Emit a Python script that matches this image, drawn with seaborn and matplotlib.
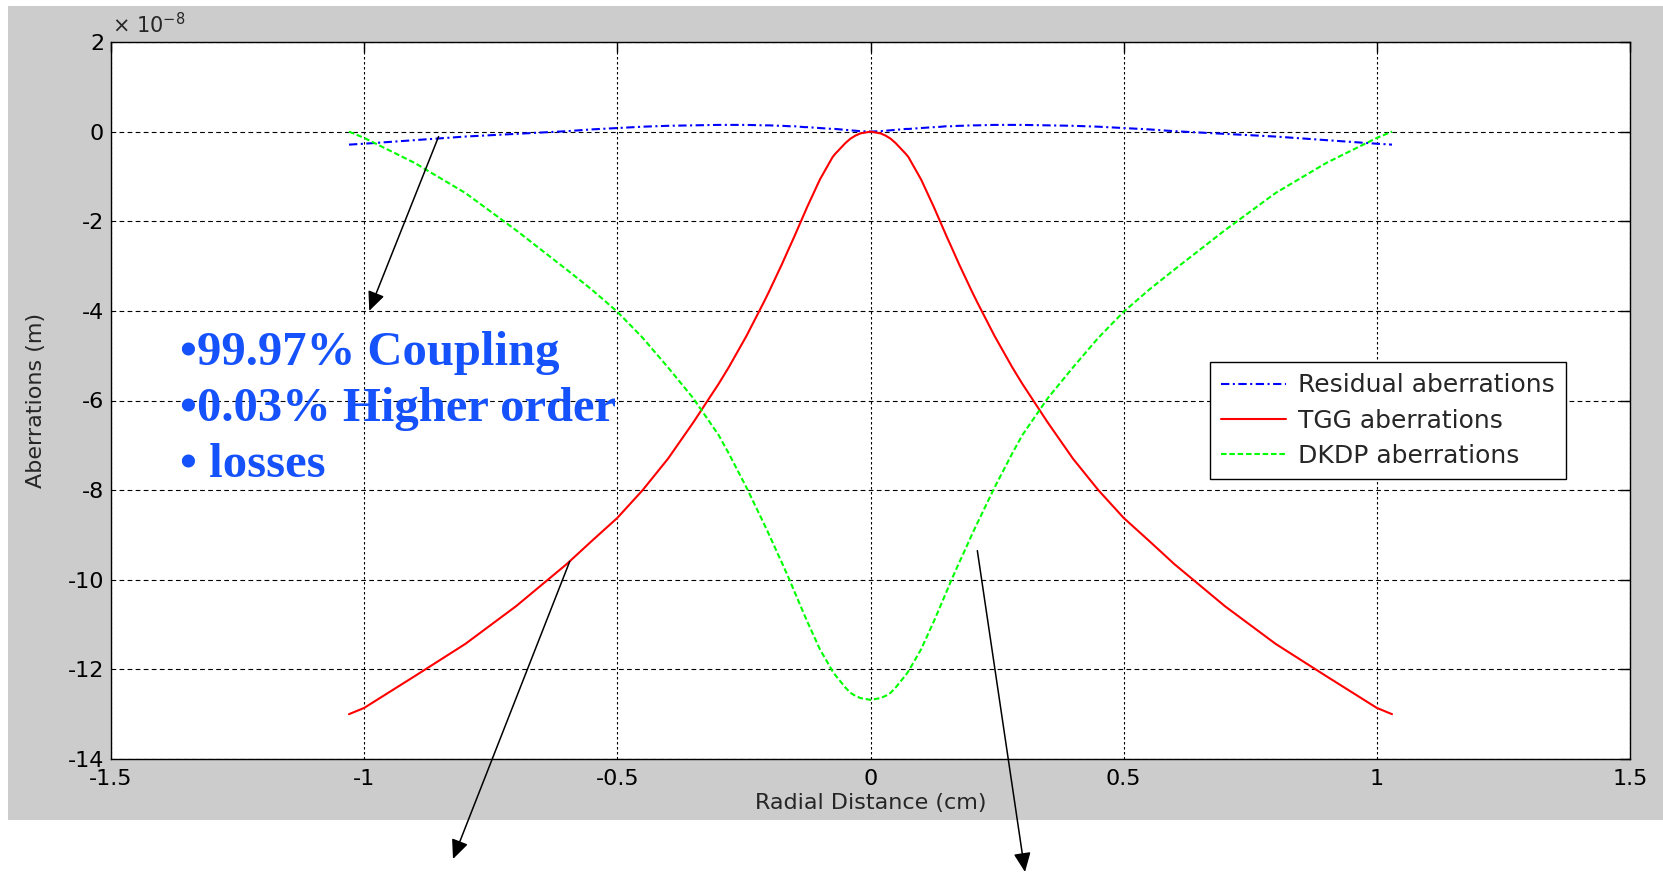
import matplotlib
matplotlib.use("Agg")
import matplotlib.pyplot as plt
from matplotlib.patches import Rectangle
import seaborn as sns
import pandas as pd

# ---------------- data (aberrations in units of 1e-8 m) ----------------
x_cm = [-1.03, -1.0, -0.9, -0.8, -0.7, -0.6, -0.55, -0.5, -0.45, -0.4, -0.35,
        -0.3, -0.28, -0.245, -0.21, -0.2, -0.18, -0.175, -0.16, -0.15, -0.13,
        -0.125, -0.1, -0.075, -0.07, -0.05, -0.04, -0.03, -0.02, 0.0,
        0.02, 0.03, 0.04, 0.05, 0.07, 0.075, 0.1, 0.125, 0.13, 0.15, 0.16,
        0.175, 0.18, 0.2, 0.21, 0.245, 0.28, 0.3, 0.35, 0.4, 0.45, 0.5,
        0.55, 0.6, 0.7, 0.8, 0.9, 1.0, 1.03]

tgg = [-13.0, -12.86, -12.15, -11.43, -10.59, -9.65, -9.13, -8.62, -8.0, -7.3,
       -6.49, -5.63, -5.26, -4.56, -3.79, -3.56, -3.08, -2.96, -2.58, -2.33,
       -1.81, -1.68, -1.07, -0.57, -0.5, -0.26, -0.16, -0.09, -0.04, 0.0,
       -0.04, -0.09, -0.16, -0.26, -0.5, -0.57, -1.07, -1.68, -1.81, -2.33,
       -2.58, -2.96, -3.08, -3.56, -3.79, -4.56, -5.26, -5.63, -6.49, -7.3,
       -8.0, -8.62, -9.13, -9.65, -10.59, -11.43, -12.15, -12.86, -13.0]

dkdp = [0.0, -0.14, -0.70, -1.37, -2.2, -3.08, -3.53, -4.02, -4.6, -5.26,
        -5.95, -6.77, -7.18, -7.94, -8.76, -9.0, -9.5, -9.62, -10.0, -10.27,
        -10.8, -10.93, -11.55, -12.04, -12.12, -12.4, -12.52, -12.59, -12.64,
        -12.68, -12.64, -12.59, -12.52, -12.4, -12.12, -12.04, -11.55, -10.93,
        -10.8, -10.27, -10.0, -9.62, -9.5, -9.0, -8.76, -7.94, -7.18, -6.77,
        -5.95, -5.26, -4.6, -4.02, -3.53, -3.08, -2.2, -1.37, -0.70, -0.14, 0.0]

residual = [-0.29, -0.27, -0.19, -0.11, -0.05, 0.01, 0.05, 0.08, 0.11, 0.13,
            0.14, 0.15, 0.15, 0.15, 0.14, 0.14, 0.13, 0.13, 0.12, 0.12, 0.10,
            0.10, 0.08, 0.06, 0.06, 0.04, 0.03, 0.02, 0.01, 0.0,
            0.01, 0.02, 0.03, 0.04, 0.06, 0.06, 0.08, 0.10, 0.10, 0.12, 0.12,
            0.13, 0.13, 0.14, 0.14, 0.15, 0.15, 0.15, 0.14, 0.13, 0.11, 0.08,
            0.05, 0.01, -0.05, -0.11, -0.19, -0.27, -0.29]

series_names = ["Residual aberrations", "TGG aberrations", "DKDP aberrations"]
x_ticks = [-1.5, -1.0, -0.5, 0.0, 0.5, 1.0, 1.5]
x_tick_labels = ["-1.5", "-1", "-0.5", "0", "0.5", "1", "1.5"]
y_ticks = [-14, -12, -10, -8, -6, -4, -2, 0, 2]
y_tick_labels = ["-14", "-12", "-10", "-8", "-6", "-4", "-2", "0", "2"]
notes = ["\u202299.97% Coupling", "\u20220.03% Higher order", "\u2022 losses"]

# ---------------- style ----------------
sns.set_style("white")
plt.rcParams["font.family"] = ["DejaVu Sans"]
plt.rcParams["axes.unicode_minus"] = False
plt.rcParams["lines.scale_dashes"] = False

W, H = 1663, 875
fig = plt.figure(figsize=(W / 100, H / 100), dpi=100, facecolor="white")
bg = Rectangle((8 / W, 55 / H), 1.0, 814 / H, transform=fig.transFigure,
               facecolor="#cccccc", edgecolor="none", zorder=-10)
fig.add_artist(bg)

ax = fig.add_axes([111 / W, 116 / H, 1519 / W, 717 / H])
ax.set_facecolor("white")
ax.set_zorder(1)

df = pd.DataFrame({"x": x_cm, series_names[0]: residual,
                   series_names[1]: tgg, series_names[2]: dkdp})

styles = {
    series_names[0]: dict(color=(0, 0, 1), linestyle=(0, (6, 2.5, 1.5, 2.5))),
    series_names[1]: dict(color=(1, 0, 0), linestyle="-"),
    series_names[2]: dict(color=(0, 1, 0), linestyle=(0, (4, 2))),
}
for name in series_names:
    sns.lineplot(data=df, x="x", y=name, ax=ax, label=name, lw=1.5,
                 sort=False, **styles[name])

ax.set_xlim(-1.5, 1.5)
ax.set_ylim(-14, 2)
ax.set_xticks(x_ticks)
ax.set_xticklabels(x_tick_labels)
ax.set_yticks(y_ticks)
ax.set_yticklabels(y_tick_labels)
ax.tick_params(direction="in", top=True, right=True, length=7, width=1,
               labelsize=16, colors="black")
ax.tick_params(axis="x", pad=7)
ax.tick_params(axis="y", pad=5)

for s in ax.spines.values():
    s.set_color("black")
    s.set_linewidth(1.0)

ax.xaxis.grid(True, color="black", lw=0.8, linestyle=(0, (1.8, 1.8)))
ax.yaxis.grid(True, color="black", lw=0.8, linestyle=(0, (3.4, 2.4)))
ax.set_axisbelow(True)

ax.set_xlabel("Radial Distance (cm)", fontsize=16)
ax.set_ylabel("Aberrations (m)", fontsize=16)
ax.xaxis.set_label_coords(0.5, -0.047)
ax.yaxis.set_label_coords(-0.043, 0.5)

ax.text(112 / W, (H - 33) / H, "\u00d7 10$^{\\mathregular{-8}}$", transform=fig.transFigure,
        fontsize=15, va="baseline", ha="left")

leg = ax.legend(loc="upper left", bbox_to_anchor=((1210 - 111) / 1519, (759 - 362) / 717),
                fontsize=18, frameon=True, fancybox=False, framealpha=1,
                edgecolor="black", handlelength=2.6, handletextpad=0.45,
                borderpad=0.45, labelspacing=0.45, borderaxespad=0)
leg.get_frame().set_linewidth(1.0)

# blue notes
for txt, base in zip(notes, [365, 421, 477]):
    ax.text(180 / W, (H - base) / H, txt, fontsize=35, fontweight="bold",
            family="Liberation Serif", color="#1652fb", va="baseline", ha="left",
            transform=fig.transFigure)

# arrows
arrow_kw = dict(arrowstyle="-|>,head_length=0.9,head_width=0.4", mutation_scale=13,
                lw=1.1, color="black", shrinkA=0, shrinkB=0)
ax.annotate("", xy=(-0.99, -4.0), xycoords="data", xytext=(-0.853, -0.11),
            textcoords="data", arrowprops=arrow_kw, annotation_clip=False)
ax.annotate("", xy=(453, H - 859), xycoords="figure pixels", xytext=(-0.594, -9.59),
            textcoords="data", arrowprops=arrow_kw, annotation_clip=False)
ax.annotate("", xy=(1025, H - 872), xycoords="figure pixels", xytext=(0.211, -9.35),
            textcoords="data", arrowprops=arrow_kw, annotation_clip=False)

fig.savefig("out.png", dpi=100, facecolor="white")
